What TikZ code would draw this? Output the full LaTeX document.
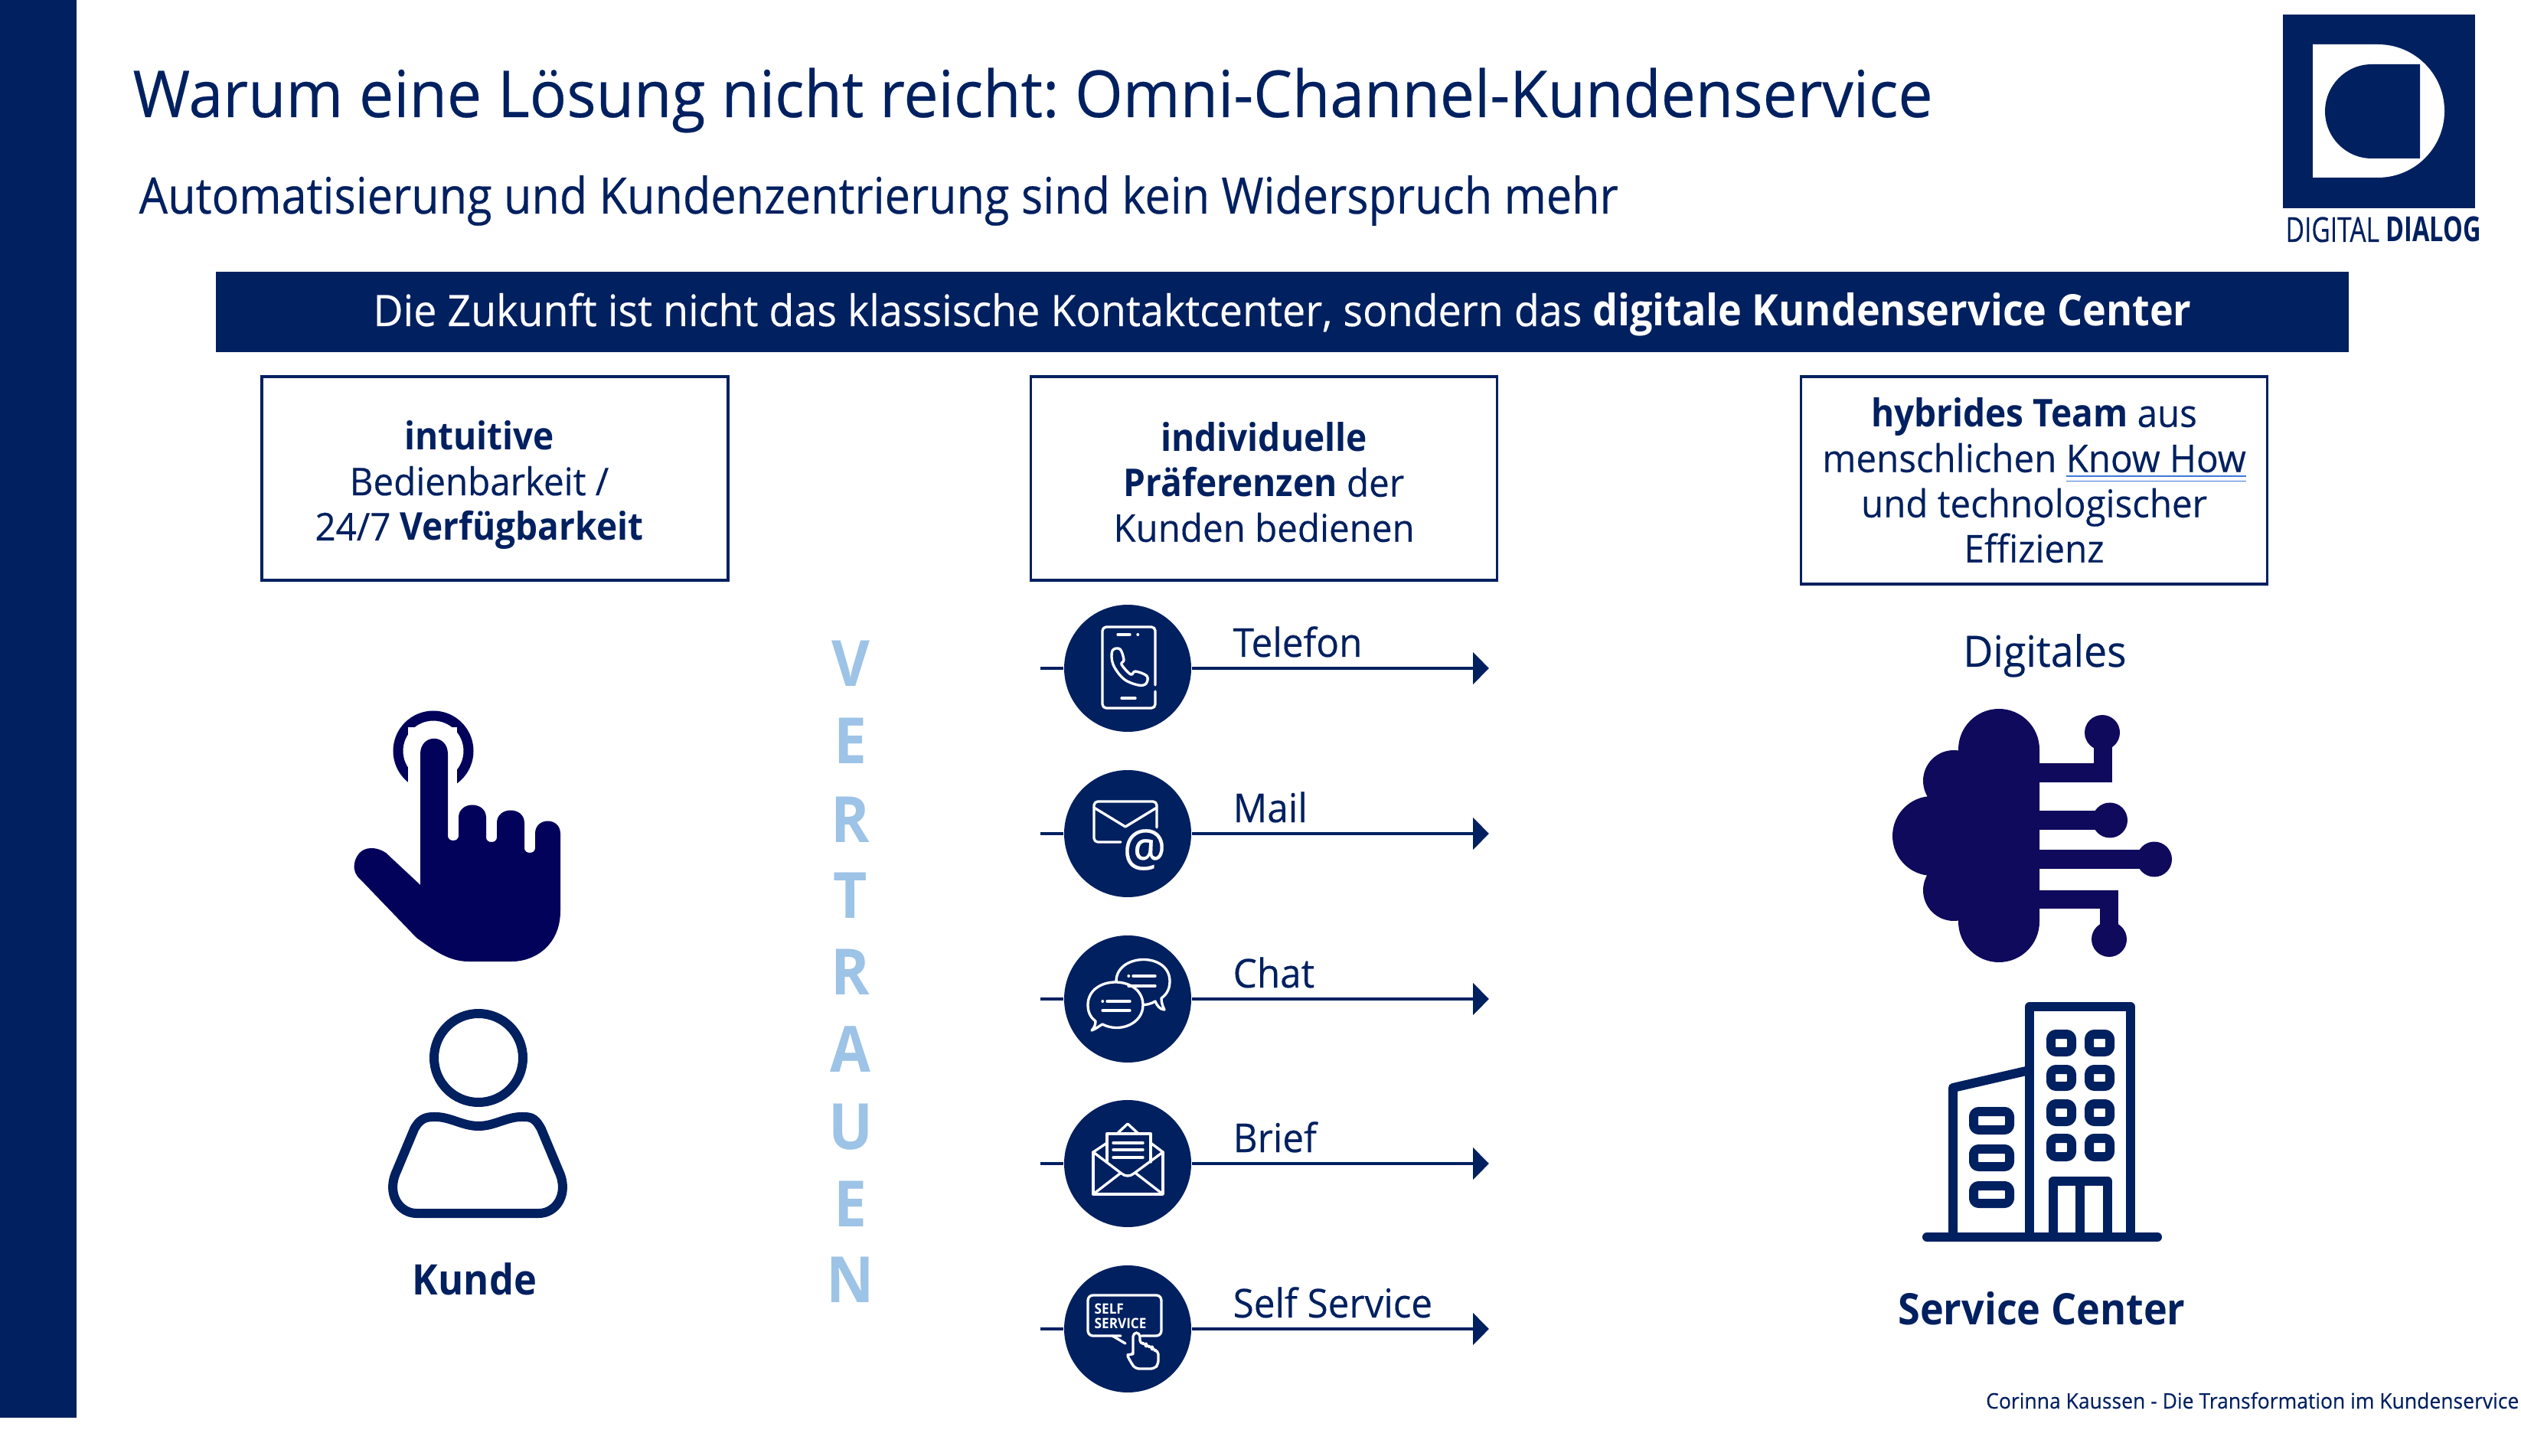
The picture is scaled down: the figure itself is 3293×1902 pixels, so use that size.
\documentclass[tikz,border=0pt]{standalone}
\usepackage{fontspec}
\setmainfont[FakeStretch=0.95,UprightFeatures={FakeBold=0.3},BoldFeatures={FakeStretch=0.92}]{Open Sans}
\frenchspacing
\usetikzlibrary{arrows.meta,shapes.geometric}
\definecolor{navy}{HTML}{002060}
\definecolor{handblue}{HTML}{02025A}
\definecolor{cloudblue}{HTML}{0F0A5C}
\definecolor{trustblue}{HTML}{9DC3E6}
\definecolor{linkblue}{HTML}{3F78DC}
\newcommand{\fsz}[1]{\fontsize{#1}{#1}\selectfont}
\begin{document}
\begin{tikzpicture}[x=0.3pt,y=-0.3pt,
    headline/.style={anchor=base west,text=navy,inner sep=0pt},
    infobox/.style={draw=navy,line width=1.1pt,minimum width=182.7pt,minimum height=79.8pt,inner sep=0pt},
    boxtext/.style={text=navy,align=center,inner sep=0pt,font=\fontsize{15}{17.7}\selectfont},
    channel/.style={circle,fill=navy,minimum size=49.8pt,inner sep=0pt},
    channelline/.style={navy,line width=1.3pt},
    channellabel/.style={anchor=base west,text=navy,inner sep=0pt,font=\fsz{15.6}},
    iconline/.style={white,line width=1pt,line cap=round,line join=round},
    buildingline/.style={navy,line width=3.6pt,line join=round,line cap=round},
    circuit/.style={cloudblue,line width=7.4pt},
    roundwin/.style={buildingline,rounded corners=2pt}]
\useasboundingbox (0,0) rectangle (3293,1902);
\fill[navy] (0,0) rectangle (100,1852);

\node[headline,font=\fsz{25.4}] (title) at (173,153) {Warum eine Lösung nicht reicht: Omni-Channel-Kundenservice};
\node[headline,xscale=0.951,transform shape,font=\fsz{19.7}] (subtitle) at (181,279) {Automatisierung und Kundenzentrierung sind kein Widerspruch mehr};
\node[fill=navy,text=white,minimum width=835.8pt,minimum height=31.5pt,inner sep=0pt,font=\fsz{17}] (banner) at (1675,407.5)
    {\smash{\raisebox{-5.55pt}{Die Zukunft ist nicht das klassische Kontaktcenter, sondern das \textbf{digitale Kundenservice Center}}}};

% logo
\fill[navy] (2982,19) rectangle (3233,272);
\fill[white] (3021,58) -- (3106,58) .. controls (3154,58) and (3193,97) .. (3193,145)
    .. controls (3193,193) and (3154,232) .. (3106,232) -- (3021,232) -- cycle;
\fill[navy] (3161,84) -- (3161,207) -- (3098,207) .. controls (3064,207) and (3037,179) .. (3037,145.5)
    .. controls (3037,112) and (3064,84) .. (3098,84) -- cycle;
\node[anchor=base west,text=navy,inner sep=0pt,xscale=0.785,transform shape,font=\fsz{13.5}] (logotext) at (2985,316) {DIGITAL \textbf{DIALOG}};

% boxes
\node[infobox] (bedienung) at (646.5,625) {};
\node[boxtext] (bedienungtext) at (626,634) {\textbf{intuitive}\\Bedienbarkeit /\\24/7 \textbf{Verfügbarkeit}};
\node[infobox] (praeferenz) at (1651,625) {};
\node[boxtext] (praeferenztext) at (1651,630) {\textbf{individuelle}\\\textbf{Präferenzen} der\\Kunden bedienen};
\node[infobox,boxtext,minimum height=81.3pt] (hybrid) at (2657,627.5) {\textbf{hybrides Team} aus\\menschlichen \textcolor{linkblue}{\underline{\underline{\textcolor{navy}{Know How}}}}\\und technologischer\\Effizienz};

% hand
\draw[handblue,line width=3.9pt] (566,981) circle (13.8pt);
\fill[white] (533,950) rectangle (597,1040);
\fill[handblue] (549,1156) -- (549,985) .. controls (549,958) and (585,958) .. (585,985)
    -- (585,1092) .. controls (585,1100) and (599,1100) .. (599,1092)
    -- (599,1068) .. controls (599,1046) and (635,1046) .. (635,1068)
    -- (635,1094) .. controls (635,1102) and (649,1102) .. (649,1094)
    -- (649,1075) .. controls (649,1053) and (685,1053) .. (685,1075)
    -- (685,1108) .. controls (685,1116) and (699,1116) .. (699,1108)
    -- (699,1089) .. controls (699,1067) and (732,1067) .. (732,1089)
    -- (732,1190) .. controls (732,1235) and (698,1256) .. (669,1256)
    -- (612,1256) .. controls (585,1256) and (565,1240) .. (544,1225)
    -- (470,1148) .. controls (458,1138) and (462,1120) .. (472,1112)
    .. controls (482,1105) and (495,1108) .. (504,1114) -- cycle;

% person
\draw[navy,line width=3.6pt] (625,1382) circle (17.4pt);
\draw[navy,line width=3.6pt,line join=round] (544,1585) .. controls (522,1585) and (504,1560) .. (518,1530)
    -- (541,1475) .. controls (550,1458) and (560,1459) .. (571,1459)
    .. controls (590,1460) and (605,1471) .. (625,1471)
    .. controls (645,1471) and (660,1460) .. (679,1459)
    .. controls (692,1459) and (698,1458) .. (707,1475)
    -- (730,1530) .. controls (744,1560) and (726,1585) .. (704,1585) -- cycle;
\node[anchor=base,text=navy,inner sep=0pt,font=\bfseries\fsz{16.5}] (kunde) at (620,1691) {Kunde};

\foreach \lett/\yy in {V/867,E/968,R/1071,T/1170,R/1270,A/1371,U/1472,E/1573,N/1672}
    \node[text=trustblue,inner sep=0pt,font=\bfseries\fsz{25}] at (1111,\yy) {\lett};

% channels
\foreach \name/\yy/\txt in {telefon/873/Telefon,mail/1089/Mail,chat/1305/Chat,brief/1520/Brief,self/1736/Self Service}{
    \node[channel] (\name) at (1473,\yy) {};
    \coordinate (\name stub) at (1359,\yy);
    \coordinate (\name end) at (1945,\yy);
    \draw[channelline] (\name stub) -- (\name);
    \draw[channelline,-{Triangle[length=6.3pt,width=12.3pt]}] (\name) -- (\name end);
    \node[channellabel] (\name label) at (1610,\yy-15) {\txt};
}

\begin{scope}[shift={(telefon)}]
\draw[iconline,rounded corners=1.5pt] (36,22) -- (36,-54) -- (-33,-54) -- (-33,52) -- (36,52) -- (36,30);
\draw[iconline] (-13,-44) -- (3,-44) (13,-44) -- (13.5,-44) (-8,39) -- (10,39);
\draw[iconline] plot[smooth cycle,tension=0.6] coordinates {(-20,-23) (-10,-25) (-5,-11) (-8,-5) (4,8) (10,4) (25,10) (24,20) (14,22) (-5,14) (-19,-5)};
\end{scope}

\begin{scope}[shift={(mail)}]
\draw[iconline,rounded corners=1.5pt] (-9,11) -- (-44,11) -- (-44,-42) -- (38,-42) -- (38,-8);
\draw[iconline] (-44,-34) -- (-3,-9) -- (38,-34);
\node[text=white,inner sep=0pt,font=\fsz{20}] (mailat) at (22,21) {@};
\end{scope}

\begin{scope}[shift={(chat)}]
\draw[iconline] (48,14) .. controls (42,14) and (38,8) .. (36,3) .. controls (15,16) and (-15,0) .. (-15,-23) .. controls (-15,-60) and (55,-62) .. (55,-23) .. controls (55,-10) and (48,-4) .. (44,-1) .. controls (44,5) and (46,10) .. (48,14);
\filldraw[iconline,fill=navy] (-47,41) .. controls (-41,39) and (-37,35) .. (-33,33) .. controls (-10,45) and (20,32) .. (20,8) .. controls (20,-32) and (-52,-32) .. (-52,8) .. controls (-52,20) and (-46,26) .. (-42,29) .. controls (-42,34) and (-44,38) .. (-47,41);
\draw[iconline] (-33,3) -- (-32.5,3) (-27,3) -- (3,3) (-33,15) -- (3,15) (1,-30) -- (1.5,-30) (7,-30) -- (36,-30) (1,-17) -- (36,-17);
\end{scope}

\begin{scope}[shift={(brief)}]
\draw[iconline] (-45,-15) -- (-45,40) -- (46,40) -- (46,-15);
\draw[iconline] (-45,-15) -- (-27,-27) (46,-15) -- (30,-27) (-45,40) -- (-10,13) (46,40) -- (11,13);
\draw[iconline] (-45,-15) -- (-8,13) .. controls (-3,17) and (3,17) .. (8,13) -- (46,-15);
\draw[iconline] (-27,-2) -- (-27,-39) -- (30,-39) -- (30,-2);
\draw[iconline] (-14,-39) -- (0,-52) -- (14,-39);
\draw[iconline] (-19,-27) -- (20,-27) (-19,-18) -- (20,-18) (-19,-8) -- (20,-8);
\end{scope}

\begin{scope}[shift={(self)}]
\draw[iconline,rounded corners=2pt] (-9,9) -- (-52,9) -- (-52,-44) -- (44,-44) -- (44,9) -- (18,9);
\draw[iconline] (-20,9) -- (-3,19);
\node[anchor=base west,text=white,inner sep=0pt,font=\bfseries\fsz{5.6}] (selfword) at (-44,-20) {SELF};
\node[anchor=base west,text=white,inner sep=0pt,font=\bfseries\fsz{5.6}] (serviceword) at (-44,-1) {SERVICE};
\filldraw[iconline,fill=navy,rounded corners=1.5pt] (7,28) -- (7,5) -- (16,5) -- (16,20) -- (24,18) -- (24,24) -- (32,22) -- (32,28) -- (40,28) -- (40,46) -- (35,52) -- (10,52) -- (5,45) -- (-2,32) -- (7,35) -- cycle;
\end{scope}

% cloud
\node[anchor=base,text=navy,inner sep=0pt,font=\fsz{16.9}] (digitales) at (2671,871) {Digitales};
\fill[cloudblue] (2558,979) rectangle (2664,1204) (2611,979) circle (15.9pt) (2611,1204) circle (15.9pt)
    (2552,1020) circle (12pt) (2552,1163) circle (12pt) (2524,1092) circle (15.6pt) (2540,1030) rectangle (2600,1160);
\draw[circuit] (2664,1009.5) -- (2747,1009.5) -- (2747,957);
\draw[circuit] (2664,1071.5) -- (2756,1071.5);
\draw[circuit] (2664,1122.5) -- (2814,1122.5);
\draw[circuit] (2664,1175) -- (2755,1175) -- (2755,1227);
\fill[cloudblue] (2746,957) circle (6.9pt) (2756,1071.5) circle (6.9pt) (2814,1122.5) circle (6.9pt) (2755,1227) circle (6.9pt);

% building
\draw[buildingline] (2517,1616) -- (2818,1616);
\draw[buildingline] (2651,1616) -- (2651,1315) -- (2783,1315) -- (2783,1616);
\draw[buildingline] (2551,1616) -- (2551,1421) -- (2651,1398);
\draw[buildingline] (2682,1616) -- (2682,1543) -- (2753,1543) -- (2753,1616) (2717,1543) -- (2717,1616);
\foreach \yy/\yb in {1351/1374,1397/1419,1442/1465,1487/1511}{
    \draw[roundwin] (2679,\yy) rectangle (2706,\yb);
    \draw[roundwin] (2729,\yy) rectangle (2756,\yb);
}
\foreach \yy/\yb in {1452/1476,1501/1524,1549/1572}
    \draw[roundwin] (2578,\yy) rectangle (2625,\yb);
\node[anchor=base,text=navy,inner sep=0pt,font=\bfseries\fsz{17}] (servicecenter) at (2667,1730) {Service Center};

\node[anchor=base east,text=navy,inner sep=0pt,font=\fsz{8.37}] (footer) at (3291,1840) {Corinna Kaussen - Die Transformation im Kundenservice};
\end{tikzpicture}
\end{document}
